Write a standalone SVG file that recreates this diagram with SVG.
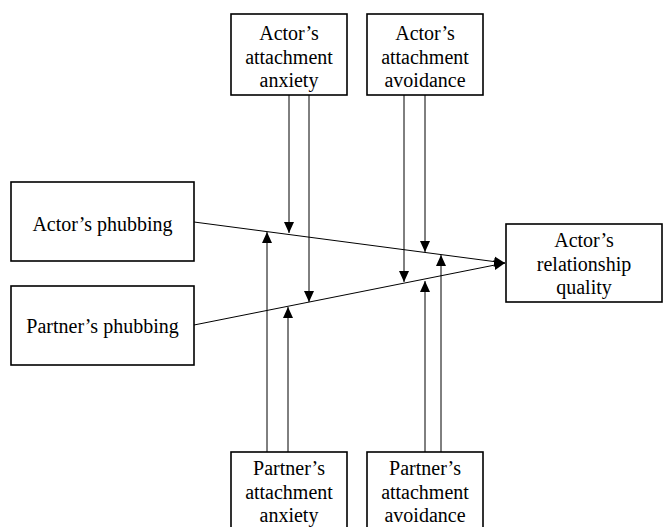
<svg xmlns="http://www.w3.org/2000/svg" width="663" height="527" viewBox="0 0 663 527">
<defs>
<marker id="ah" markerWidth="12" markerHeight="12" viewBox="0 0 12 12" refX="11" refY="6" orient="auto" markerUnits="userSpaceOnUse">
<path d="M0,1 L11,6 L0,11 Z" fill="#000"/>
</marker>
<style>
.box{fill:#fff;stroke:#000;stroke-width:1.6}
.t{font-size:20px;fill:#000;text-anchor:middle}
.c{stroke:#000;stroke-width:1;fill:none;marker-end:url(#ah)}
</style>
</defs>
<rect width="663" height="527" fill="#fff"/>
<g id="connectors">
<line class="c" x1="194" y1="222" x2="505" y2="263"/>
<line class="c" x1="194" y1="325" x2="505" y2="263"/>
<line class="c" x1="289" y1="95" x2="289" y2="233"/>
<line class="c" x1="309" y1="95" x2="309" y2="302"/>
<line class="c" x1="404" y1="95" x2="404" y2="282"/>
<line class="c" x1="425" y1="95" x2="425" y2="252"/>
<line class="c" x1="267" y1="452" x2="267" y2="232"/>
<line class="c" x1="288" y1="452" x2="288" y2="307"/>
<line class="c" x1="425" y1="452" x2="425" y2="281"/>
<line class="c" x1="441" y1="452" x2="441" y2="255"/>
</g>
<g font-family="Liberation Serif" style="font-family:'Liberation Serif',serif">
<g id="actor-anxiety">
<rect class="box" x="231" y="14" width="116" height="81"/>
<text class="t" x="289" y="40">Actor’s</text>
<text class="t" x="289" y="63.5">attachment</text>
<text class="t" x="289" y="87">anxiety</text>
</g>
<g id="actor-avoidance">
<rect class="box" x="367" y="14" width="116" height="81"/>
<text class="t" x="425" y="40">Actor’s</text>
<text class="t" x="425" y="63.5">attachment</text>
<text class="t" x="425" y="87">avoidance</text>
</g>
<g id="actor-phubbing">
<rect class="box" x="11" y="182" width="183" height="79"/>
<text class="t" x="102.5" y="231">Actor’s phubbing</text>
</g>
<g id="partner-phubbing">
<rect class="box" x="11" y="286" width="183" height="79"/>
<text class="t" x="102.5" y="333">Partner’s phubbing</text>
</g>
<g id="relationship-quality">
<rect class="box" x="506" y="224" width="156" height="78"/>
<text class="t" x="584" y="247">Actor’s</text>
<text class="t" x="584" y="270.5">relationship</text>
<text class="t" x="584" y="294">quality</text>
</g>
<g id="partner-anxiety">
<rect class="box" x="231" y="452" width="116" height="80"/>
<text class="t" x="289" y="475">Partner’s</text>
<text class="t" x="289" y="498.5">attachment</text>
<text class="t" x="289" y="522">anxiety</text>
</g>
<g id="partner-avoidance">
<rect class="box" x="367" y="452" width="116" height="80"/>
<text class="t" x="425" y="475">Partner’s</text>
<text class="t" x="425" y="498.5">attachment</text>
<text class="t" x="425" y="522">avoidance</text>
</g>
</g>
</svg>
